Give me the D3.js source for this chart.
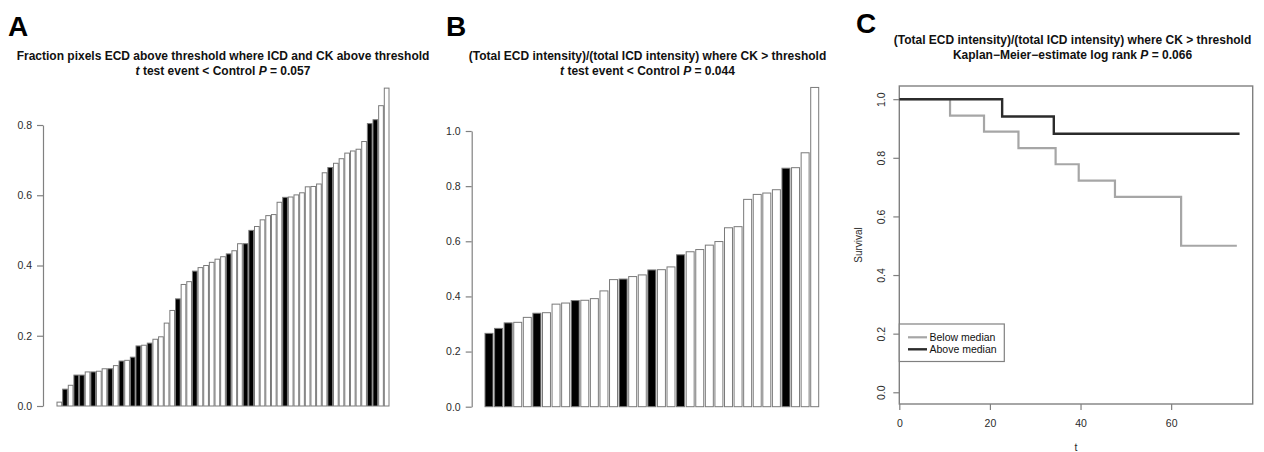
<!DOCTYPE html>
<html>
<head>
<meta charset="utf-8">
<script src="https://cdn.jsdelivr.net/npm/d3@7"></script>
<style>
  html, body { margin: 0; padding: 0; background: #fff; }
  svg { display: block; font-family: "Liberation Sans", Arial, sans-serif; }
</style>
</head>
<body>
<svg id="chart" width="1264" height="452"></svg>
<script>
// ---------------- data ----------------
// Panel A: fraction pixels ECD above threshold (sorted), event flag (1 = event, black)
const valuesA = [0.011,0.048,0.059,0.088,0.088,0.097,0.097,0.099,0.106,0.106,
                 0.115,0.128,0.130,0.139,0.171,0.173,0.179,0.190,0.197,0.236,
                 0.272,0.305,0.346,0.354,0.384,0.394,0.400,0.409,0.418,0.425,
                 0.433,0.442,0.462,0.462,0.500,0.511,0.530,0.542,0.545,0.580,
                 0.594,0.595,0.601,0.607,0.624,0.625,0.632,0.664,0.679,0.691,
                 0.704,0.720,0.726,0.731,0.753,0.804,0.815,0.855,0.905];
const eventA  = [0,1,0,1,1,0,1,0,0,1,
                 0,1,0,1,1,0,1,0,0,0,
                 0,1,0,0,1,0,0,0,0,0,
                 1,0,0,1,1,0,0,0,0,0,
                 1,0,0,0,0,0,0,0,1,0,
                 0,0,0,0,0,1,1,0,0];
const ticksA = [0, 0.2, 0.4, 0.6, 0.8];

// Panel B: ECD/ICD intensity ratio (sorted), event flag
const valuesB = [0.266,0.284,0.304,0.306,0.324,0.339,0.341,0.372,0.376,0.385,
                 0.386,0.392,0.420,0.461,0.463,0.472,0.478,0.496,0.497,0.507,
                 0.551,0.562,0.570,0.586,0.599,0.649,0.653,0.752,0.770,0.775,
                 0.787,0.865,0.867,0.921,1.158];
const eventB  = [1,1,1,0,0,1,0,0,0,1,
                 0,0,0,0,1,0,0,1,0,0,
                 1,0,0,0,0,0,0,0,0,0,
                 0,1,0,0,0];
const ticksB = [0, 0.2, 0.4, 0.6, 0.8, 1.0];

// Panel C: Kaplan-Meier step curves
const belowTimes = [0, 11.2, 18.7, 26.3, 34.5, 39.6, 47.6, 62.2, 74.5];
const belowSurv  = [1, 0.944, 0.889, 0.833, 0.778, 0.722, 0.667, 0.5, 0.5];
const aboveTimes = [0, 22.7, 34.1, 75.1];
const aboveSurv  = [1, 0.941, 0.882, 0.882];
const ticksCx = [0, 20, 40, 60];
const ticksCy = [0, 0.2, 0.4, 0.6, 0.8, 1.0];
const legendLabels = ["Below median", "Above median"];

// ---------------- drawing ----------------
const svg = d3.select("#chart");
const AXIS_COL = "#808080";
const TEXT_COL = "#2a2a2a";
const BAR_STROKE = "#7a7a7a";

function panelLetter(x, y, t) {
  svg.append("text").attr("x", x).attr("y", y)
    .attr("font-size", 28).attr("font-weight", "bold").attr("fill", "#000").text(t);
}

function title(cx, y1, line1, line2parts) {
  svg.append("text").attr("x", cx).attr("y", y1).attr("text-anchor", "middle")
    .attr("font-size", 12).attr("font-weight", "bold").attr("fill", "#111").text(line1);
  const t2 = svg.append("text").attr("x", cx).attr("y", y1 + 15).attr("text-anchor", "middle")
    .attr("font-size", 12).attr("font-weight", "bold").attr("fill", "#111");
  line2parts.forEach(p => {
    t2.append("tspan").attr("font-style", p.italic ? "italic" : "normal").text(p.text);
  });
}

function styleAxis(g) {
  g.select(".domain").attr("stroke", AXIS_COL).attr("stroke-width", 1.2);
  g.selectAll(".tick line").attr("stroke", AXIS_COL).attr("stroke-width", 1.2);
  g.selectAll(".tick text").attr("fill", TEXT_COL).attr("font-size", 10.5)
    .attr("font-family", "Liberation Sans, Arial, sans-serif");
}

function barPanel(values, events, ticks, axisX, y0, yTop, topVal, x0, x1) {
  const y = d3.scaleLinear().domain([0, topVal]).range([y0, yTop]);
  const x = d3.scaleBand().domain(d3.range(values.length)).range([x0, x1])
    .paddingInner(1 / 6).paddingOuter(0);
  svg.append("g").selectAll("rect").data(values).join("rect")
    .attr("x", (d, i) => x(i))
    .attr("y", d => y(d))
    .attr("width", x.bandwidth())
    .attr("height", d => y(0) - y(d))
    .attr("fill", (d, i) => events[i] ? "#000" : "#fff")
    .attr("stroke", BAR_STROKE)
    .attr("stroke-width", 1);
  const ax = svg.append("g").attr("transform", `translate(${axisX},0)`)
    .call(d3.axisLeft(y).tickValues(ticks).tickFormat(d3.format(".1f"))
      .tickSize(6).tickSizeOuter(0).tickPadding(5));
  styleAxis(ax);
}

// Panel A
panelLetter(8, 36, "A");
title(223, 60, "Fraction pixels ECD above threshold where ICD and CK above threshold",
  [{text: "t", italic: true}, {text: " test event < Control "}, {text: "P", italic: true}, {text: " = 0.057"}]);
barPanel(valuesA, eventA, ticksA, 43, 406, 125, 0.8, 57, 389);

// Panel B
panelLetter(446, 36, "B");
title(647.5, 60, "(Total ECD intensity)/(total ICD intensity) where CK > threshold",
  [{text: "t", italic: true}, {text: " test event < Control "}, {text: "P", italic: true}, {text: " = 0.044"}]);
barPanel(valuesB, eventB, ticksB, 471.7, 406.7, 131, 1.0, 485, 818.7);

// Panel C
panelLetter(856, 33, "C");
title(1072.5, 43.5, "(Total ECD intensity)/(total ICD intensity) where CK > threshold",
  [{text: "Kaplan\u2212Meier\u2212estimate log rank "}, {text: "P", italic: true}, {text: " = 0.066"}]);

const xC = d3.scaleLinear().domain([0, 78]).range([899.3, 1252.7]);
const yC = d3.scaleLinear().domain([-0.04, 1.045]).range([404, 86]);

// plot box
svg.append("rect")
  .attr("x", xC(0)).attr("y", yC(1.045))
  .attr("width", xC(78) - xC(0)).attr("height", yC(-0.04) - yC(1.045))
  .attr("fill", "none").attr("stroke", AXIS_COL).attr("stroke-width", 1.4);

// axes
const axL = svg.append("g").attr("transform", `translate(${xC(0)},0)`)
  .call(d3.axisLeft(yC).tickValues(ticksCy).tickFormat(d3.format(".1f")).tickSize(6).tickSizeOuter(0));
axL.select(".domain").remove();
styleAxis(axL);
axL.selectAll(".tick text")
  .attr("transform", "rotate(-90)")
  .attr("x", 0).attr("y", -14.5).attr("dy", 0)
  .attr("text-anchor", "middle");

const axB = svg.append("g").attr("transform", `translate(0,${yC(-0.04)})`)
  .call(d3.axisBottom(xC).tickValues(ticksCx).tickFormat(d3.format("d")).tickSize(6).tickSizeOuter(0));
axB.select(".domain").remove();
styleAxis(axB);
axB.selectAll(".tick text").attr("y", 22.5).attr("dy", 0);

svg.append("text").attr("transform", `translate(861.5,245) rotate(-90)`)
  .attr("text-anchor", "middle").attr("font-size", 10).attr("fill", TEXT_COL).text("Survival");
svg.append("text").attr("x", (xC(0) + xC(78)) / 2).attr("y", 451)
  .attr("text-anchor", "middle").attr("font-size", 10.5).attr("fill", TEXT_COL).text("t");

// KM curves
const lineGen = d3.line().x(d => xC(d[0])).y(d => yC(d[1])).curve(d3.curveStepAfter);
const below = belowTimes.map((t, i) => [t, belowSurv[i]]);
const above = aboveTimes.map((t, i) => [t, aboveSurv[i]]);
svg.append("path").attr("d", lineGen(below)).attr("fill", "none")
  .attr("stroke", "#a6a6a6").attr("stroke-width", 2.2);
svg.append("path").attr("d", lineGen(above)).attr("fill", "none")
  .attr("stroke", "#2b2b2b").attr("stroke-width", 2.4);

// legend
const lg = svg.append("g");
lg.append("rect").attr("x", 899.3).attr("y", 324).attr("width", 105).attr("height", 37.5)
  .attr("fill", "#fff").attr("stroke", AXIS_COL).attr("stroke-width", 1.2);
const legendCols = ["#a6a6a6", "#2b2b2b"];
legendLabels.forEach((lab, i) => {
  const yy = 337.3 + i * 12;
  lg.append("line").attr("x1", 908).attr("x2", 927).attr("y1", yy).attr("y2", yy)
    .attr("stroke", legendCols[i]).attr("stroke-width", i ? 2.4 : 2.2);
  lg.append("text").attr("x", 929.5).attr("y", yy + 3.8).attr("font-size", 10.5)
    .attr("fill", "#111").text(lab);
});
</script>
</body>
</html>
